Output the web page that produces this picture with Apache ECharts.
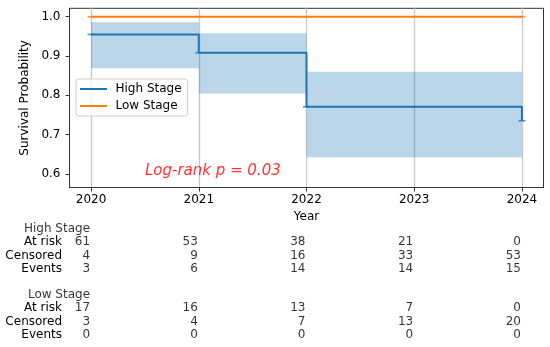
<!DOCTYPE html>
<html>
<head>
<meta charset="utf-8">
<script src="https://cdn.jsdelivr.net/npm/echarts@6/dist/echarts.min.js"></script>
<style>html,body{margin:0;padding:0;background:#fff}#c{width:550px;height:347px}</style>
</head>
<body>
<div id="c"></div>
<script>
// ---- data ----
var years = [2020, 2021, 2022, 2023, 2024];
var yTicks = [0.6, 0.7, 0.8, 0.9, 1.0];
var highTimes = [2020, 2021, 2022, 2024];
var highSurv = [0.955, 0.9085, 0.771, 0.7356];
var highCensorTimes = [2020, 2021, 2022, 2023, 2024];
var highCensorSurv = [0.955, 0.9085, 0.771, 0.771, 0.7356];
var ciStart = [2020, 2021, 2022];
var ciEnd = [2021, 2022, 2024];
var ciLower = [0.869, 0.805, 0.6425];
var ciUpper = [0.9858, 0.958, 0.860];
var lowTimes = [2020, 2024];
var lowSurv = [1.0, 1.0];
var lowCensorTimes = [2020, 2021, 2022, 2023, 2024];
var lowCensorSurv = [1.0, 1.0, 1.0, 1.0, 1.0];
var pText = 'Log-rank p = 0.03';
var pPos = [2020.5, 0.6];
var highAtRisk = [61, 53, 38, 21, 0];
var highCensored = [4, 9, 16, 33, 53];
var highEvents = [3, 6, 14, 14, 15];
var lowAtRisk = [17, 16, 13, 7, 0];
var lowCensored = [3, 4, 7, 13, 20];
var lowEvents = [0, 0, 0, 0, 0];
var rowLabels = ['', 'At risk', 'Censored', 'Events', '', '', 'At risk', 'Censored', 'Events'];
var groupNames = ['High Stage', 'Low Stage'];

// ---- build ----
var FONT = 'DejaVu Sans';
var TXT = '#000';
var BLUE = '#1f77b4', ORANGE = '#ff7f0e';

function zip(a, b) { return a.map(function (v, i) { return [v, b[i]]; }); }

var tableSeries = [];
function labelCfg() {
  return {
    show: true, position: 'inside', align: 'right', verticalAlign: 'middle',
    offset: [-1, 0],
    fontFamily: FONT, fontSize: 12, color: TXT,
    formatter: function (p) { return String(p.data[2]); }
  };
}
function addRow(rowIdx, vals) {
  tableSeries.push({
    type: 'scatter', xAxisIndex: 1, yAxisIndex: 1, symbolSize: 1, silent: true,
    itemStyle: { color: 'transparent' },
    data: vals.map(function (v, i) { return [years[i], rowIdx, v]; }),
    label: labelCfg()
  });
}
tableSeries.push({
  type: 'scatter', xAxisIndex: 1, yAxisIndex: 1, symbolSize: 1, silent: true,
  itemStyle: { color: 'transparent' },
  data: [[years[0], 0, groupNames[0]], [years[0], 5, groupNames[1]]],
  label: labelCfg()
});
addRow(1, highAtRisk); addRow(2, highCensored); addRow(3, highEvents);
addRow(6, lowAtRisk); addRow(7, lowCensored); addRow(8, lowEvents);

var chart = echarts.init(document.getElementById('c'));
chart.setOption({
  animation: false,
  backgroundColor: '#fff',
  textStyle: { fontFamily: FONT },
  grid: [
    { left: 69.5, right: 6.5, top: 8.3, bottom: 159.5, show: true, borderColor: '#333', borderWidth: 1, backgroundColor: 'transparent', containLabel: false },
    { left: 69.5, right: 6.5, top: 222.4, height: 118.8, containLabel: false }
  ],
  legend: {
    data: [{ name: 'High Stage', icon: 'rect' }, { name: 'Low Stage', icon: 'rect' }],
    orient: 'vertical', left: 76, top: 79,
    itemWidth: 27, itemHeight: 2, itemGap: 0,
    padding: [1.5, 6, 1.5, 4],
    borderColor: '#cfcfcf', borderWidth: 1, borderRadius: 3,
    backgroundColor: 'rgba(255,255,255,0.8)',
    textStyle: { fontFamily: FONT, fontSize: 12, color: TXT, lineHeight: 17, padding: [0, 0, 0, 3.5] }
  },
  xAxis: [
    {
      type: 'value', gridIndex: 0, min: 2019.8, max: 2024.2,
      name: 'Year', nameLocation: 'middle', nameGap: 22,
      nameTextStyle: { fontFamily: FONT, fontSize: 12, color: TXT },
      axisLine: { show: true, lineStyle: { color: '#333', width: 1 } },
      axisTick: { show: true, length: 4, customValues: years, lineStyle: { color: '#333' } },
      axisLabel: { customValues: years, margin: 6, fontFamily: FONT, fontSize: 12, color: TXT, formatter: function (v) { return String(v); } },
      splitLine: { show: true, lineStyle: { color: '#c8c8c8', width: 1.3 } }
    },
    { type: 'value', gridIndex: 1, min: 2019.8, max: 2024.2, show: false }
  ],
  yAxis: [
    {
      type: 'value', gridIndex: 0, min: 0.5657, max: 1.0214,
      name: 'Survival Probability', nameLocation: 'middle', nameGap: 35,
      nameTextStyle: { fontFamily: FONT, fontSize: 12, color: TXT },
      axisLine: { show: true, lineStyle: { color: '#333', width: 1 } },
      axisTick: { show: true, length: 4, customValues: yTicks, lineStyle: { color: '#333' } },
      axisLabel: { customValues: yTicks, margin: 9, fontFamily: FONT, fontSize: 12, color: TXT, formatter: function (v) { return v.toFixed(1); } },
      splitLine: { show: false }
    },
    {
      type: 'category', gridIndex: 1, inverse: true, data: rowLabels,
      axisLine: { show: false }, axisTick: { show: false }, splitLine: { show: false },
      axisLabel: { margin: 7.5, fontFamily: FONT, fontSize: 12, color: TXT, interval: 0 }
    }
  ],
  series: [
    {
      type: 'custom', name: 'ci', xAxisIndex: 0, yAxisIndex: 0, silent: true, z: 1,
      data: ciStart.map(function (s, i) { return [s, ciEnd[i], ciLower[i], ciUpper[i]]; }),
      renderItem: function (params, api) {
        var p1 = api.coord([api.value(0), api.value(3)]);
        var p2 = api.coord([api.value(1), api.value(2)]);
        return { type: 'rect', shape: { x: p1[0], y: p1[1], width: p2[0] - p1[0], height: p2[1] - p1[1] },
                 style: { fill: BLUE, opacity: 0.3 } };
      }
    },
    {
      type: 'line', name: 'High Stage', step: 'end', showSymbol: false, symbol: 'none', z: 3,
      data: zip(highTimes, highSurv),
      itemStyle: { color: BLUE }, lineStyle: { color: BLUE, width: 2 }
    },
    {
      type: 'scatter', name: 'hc', symbol: 'rect', symbolSize: [7, 1.6], z: 3, silent: true,
      data: zip(highCensorTimes, highCensorSurv), itemStyle: { color: BLUE }
    },
    {
      type: 'line', name: 'Low Stage', showSymbol: false, symbol: 'none', z: 3,
      data: zip(lowTimes, lowSurv),
      itemStyle: { color: ORANGE }, lineStyle: { color: ORANGE, width: 2 }
    },
    {
      type: 'scatter', name: 'lc', symbol: 'rect', symbolSize: [7, 1.6], z: 3, silent: true,
      data: zip(lowCensorTimes, lowCensorSurv), itemStyle: { color: ORANGE }
    },
    {
      type: 'scatter', name: 'ptext', symbolSize: 0, silent: true, z: 4,
      data: [pPos],
      label: { show: true, position: 'right', distance: 0, offset: [0, -3], formatter: pText,
               fontFamily: FONT, fontSize: 15, fontStyle: 'italic', color: '#ff0000' }
    }
  ].concat(tableSeries)
});
</script>
</body>
</html>
